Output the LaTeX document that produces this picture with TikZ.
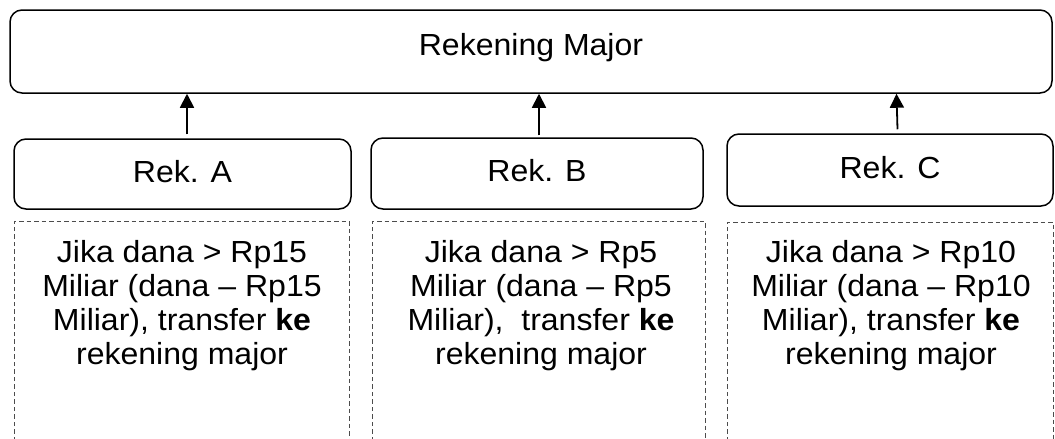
\documentclass[tikz,border=0pt]{standalone}
\usepackage{fontspec}
\setmainfont{Liberation Sans}[FakeStretch=1.05]
\usetikzlibrary{arrows.meta,calc}
\begin{document}
\begin{tikzpicture}[x=1pt,y=-1pt,
  rbox/.style={draw=black,line width=1.5pt,rounded corners=12pt,inner sep=0pt,
    font=\fontsize{30.5}{34.5}\selectfont,text height=22pt,text depth=6pt},
  dbox/.style={draw=black!70,line width=0.9pt,dash pattern=on 4.5pt off 3pt},
  bodytext/.style={align=center,inner sep=0pt,anchor=north,
    font=\fontsize{30.5}{34}\selectfont},
  arr/.style={line width=1.8pt,-{Triangle[width=14pt,length=14pt]}}]
\useasboundingbox (0,0) rectangle (1055,439);
\node[rbox,minimum width=1042pt,minimum height=83pt,text depth=14pt] (major) at (531,51.5) {Rekening Major};
\node[rbox,minimum width=337pt,minimum height=70pt] (ra) at (182.5,174) {Rek. A};
\node[rbox,minimum width=332pt,minimum height=71pt] (rb) at (537,173.5) {Rek. B};
\node[rbox,minimum width=326pt,minimum height=72pt] (rc) at (890,170) {Rek. C};
\draw[arr] ($(ra.north)+(4.5,-4)$) -- ($(ra.north |- major.south)+(4.5,0)$);
\draw[arr] ($(rb.north)+(2,-2)$) -- ($(rb.north |- major.south)+(2,0)$);
\draw[arr] ($(rc.north)+(7.5,-4)$) -- ($(rc.north |- major.south)+(6.5,0)$);
\draw[dbox] (14,441) -- (14,221) -- (349,221) -- (349,441);
\draw[dbox] (372,441) -- (372,221) -- (705,221) -- (705,441);
\draw[dbox] (727,441) -- (727,222) -- (1053,222) -- (1053,441);
\node[bodytext] (ta) at (182,240) {Jika dana > Rp15\\Miliar (dana – Rp15\\Miliar), transfer \textbf{ke}\\rekening major};
\node[bodytext] (tb) at (541,240) {Jika dana > Rp5\\Miliar (dana – Rp5\\Miliar),\ \ transfer \textbf{ke}\\rekening major};
\node[bodytext] (tc) at (891,240) {Jika dana > Rp10\\Miliar (dana – Rp10\\Miliar), transfer \textbf{ke}\\rekening major};
\end{tikzpicture}
\end{document}
